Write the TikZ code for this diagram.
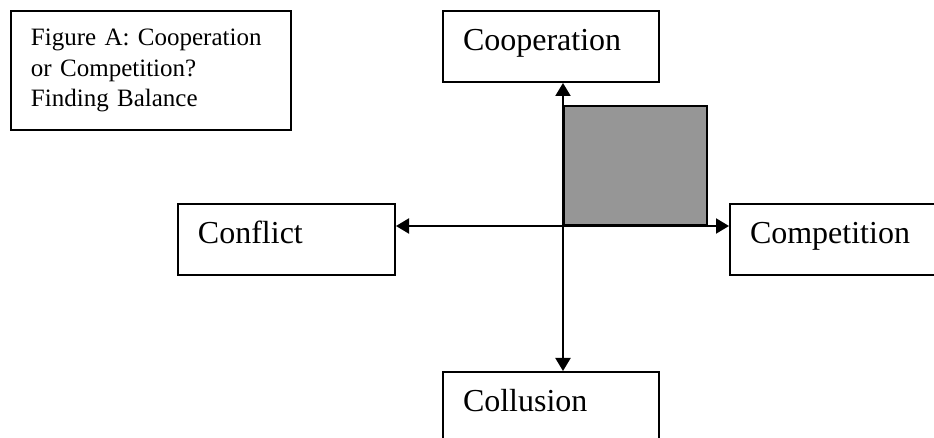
\documentclass[tikz,border=0pt]{standalone}
\usepackage{fontspec}
\setmainfont{Liberation Serif}
\usetikzlibrary{arrows.meta}

\begin{document}
\begin{tikzpicture}[x=0.5pt, y=-0.5pt, line width=1pt,
  box/.style = {draw, anchor=north west, inner xsep=10pt, inner ysep=0pt, align=left, font=\fontsize{16}{19}\selectfont, text height=20pt, text depth=15.5pt},
  axis/.style = {{Triangle[length=6.5pt,width=7.5pt]}-{Triangle[length=6.5pt,width=7.5pt]}}]
\clip (0,0) rectangle (934,438);
\node[draw, anchor=north west, inner xsep=10pt, inner ysep=0pt, text width=120pt, minimum height=59.5pt, align=left, font=\fontsize{12.5}{15.25}\selectfont] (0) at (10,10) {Figure A: Cooperation\\or Competition?\\Finding Balance};
\node[box, text width=88pt] (1) at (442,10) {Cooperation};
\node[box, text width=88.5pt] (2) at (177,203) {Conflict};
\node[box, text width=82.5pt] (3) at (729,203) {Competition};
\node[box, text width=88pt] (4) at (442,371) {Collusion};
\coordinate (o) at (563,226);
\node[draw, fill={rgb,255:red,150;green,150;blue,150}, anchor=south west, inner sep=0pt, minimum width=71.5pt, minimum height=59.5pt] (q) at (o) {};
\draw[axis] (1.south -| o) -- (4.north -| o);
\draw[axis] (2.east |- o) -- (3.west |- o);
\end{tikzpicture}
\end{document}
